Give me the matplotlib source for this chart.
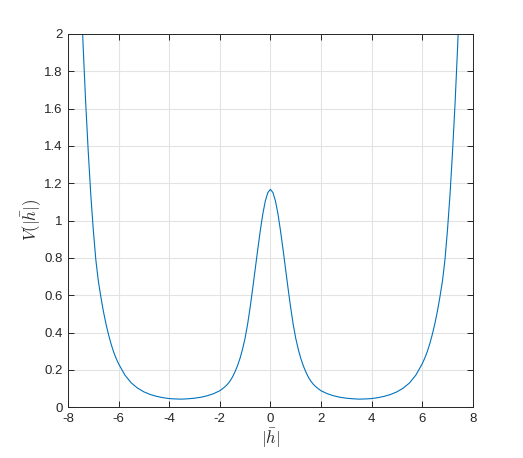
import matplotlib
matplotlib.use("Agg")
import matplotlib.pyplot as plt

plt.rcParams['font.family'] = ['Liberation Sans', 'DejaVu Sans']
plt.rcParams['mathtext.fontset'] = 'cm'
plt.rcParams['axes.unicode_minus'] = False

# curve
h_vals = [-7.45, -7.4, -7.3, -7.2, -7.1, -7.0, -6.9, -6.8, -6.7, -6.6, -6.5, -6.4, -6.3, -6.2, -6.1, -6.0,
          -5.75, -5.5, -5.25, -5.0, -4.75, -4.5, -4.25, -4.0, -3.75, -3.5, -3.25, -3.0, -2.75, -2.5, -2.25,
          -2.0, -1.9, -1.8, -1.7, -1.6, -1.5, -1.4, -1.3, -1.2, -1.1, -1.0,
          -0.9, -0.8, -0.7, -0.6, -0.5, -0.4, -0.3, -0.2, -0.1, 0.0,
          0.1, 0.2, 0.3, 0.4, 0.5, 0.6, 0.7, 0.8, 0.9, 1.0,
          1.1, 1.2, 1.3, 1.4, 1.5, 1.6, 1.7, 1.8, 1.9, 2.0,
          2.25, 2.5, 2.75, 3.0, 3.25, 3.5, 3.75, 4.0, 4.25, 4.5, 4.75, 5.0, 5.25, 5.5, 5.75,
          6.0, 6.1, 6.2, 6.3, 6.4, 6.5, 6.6, 6.7, 6.8, 6.9, 7.0, 7.1, 7.2, 7.3, 7.4, 7.45]
v_vals = [2.1, 1.93, 1.63, 1.37, 1.14, 0.95, 0.79, 0.675, 0.59, 0.513, 0.447, 0.39, 0.34, 0.297, 0.262, 0.232,
          0.172, 0.13, 0.102, 0.082, 0.068, 0.058, 0.051, 0.046, 0.044, 0.043, 0.045, 0.048, 0.053, 0.061, 0.072,
          0.088, 0.098, 0.109, 0.122, 0.139, 0.161, 0.189, 0.222, 0.262, 0.311, 0.37,
          0.445, 0.535, 0.635, 0.74, 0.845, 0.945, 1.035, 1.105, 1.15, 1.167,
          1.15, 1.105, 1.035, 0.945, 0.845, 0.74, 0.635, 0.535, 0.445, 0.37,
          0.311, 0.262, 0.222, 0.189, 0.161, 0.139, 0.122, 0.109, 0.098, 0.088,
          0.072, 0.061, 0.053, 0.048, 0.045, 0.043, 0.044, 0.046, 0.051, 0.058, 0.068, 0.082, 0.102, 0.13, 0.172,
          0.232, 0.262, 0.297, 0.34, 0.39, 0.447, 0.513, 0.59, 0.675, 0.79, 0.95, 1.14, 1.37, 1.63, 1.93, 2.1]

x_ticks = [-8, -6, -4, -2, 0, 2, 4, 6, 8]
y_ticks = [0, 0.2, 0.4, 0.6, 0.8, 1, 1.2, 1.4, 1.6, 1.8, 2]
y_labels = ['0', '0.2', '0.4', '0.6', '0.8', '1', '1.2', '1.4', '1.6', '1.8', '2']

fig = plt.figure(figsize=(5.23, 4.58), dpi=100)
ax = fig.add_axes([0.130, 0.111, 0.774, 0.815])

ax.plot(h_vals, v_vals, color='#0072BD', linewidth=0.8)

ax.set_xlim(-8, 8)
ax.set_ylim(0, 2)
ax.set_xticks(x_ticks)
ax.set_xticklabels([str(t) for t in x_ticks])
ax.set_yticks(y_ticks)
ax.set_yticklabels(y_labels)
ax.grid(True, color='#e3e3e3', linewidth=0.8)
ax.set_axisbelow(True)
ax.tick_params(direction='in', top=True, right=True, length=4, width=0.7,
               colors='#262626', labelsize=9.5, pad=4)
for s in ax.spines.values():
    s.set_color('#262626')
    s.set_linewidth(0.7)

ax.set_xlabel(r'$|\bar{h}|$', fontsize=12, color='#262626', labelpad=1)
ax.set_ylabel(r'$V(|\bar{h}|)$', fontsize=12, color='#262626', labelpad=0)

fig.savefig('out.png', dpi=100)
